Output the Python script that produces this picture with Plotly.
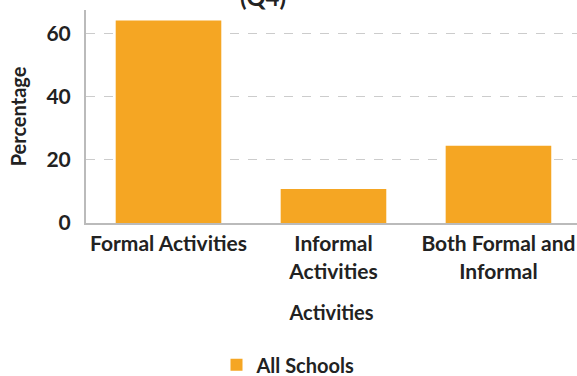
import plotly.graph_objects as go

# Share of schools by type of activity offered
categories = ["Formal Activities", "Informal<br>Activities", "Both Formal and<br>Informal"]
percentages = [64.2, 10.8, 24.5]
series_name = "All Schools"
y_ticks = [0, 20, 40, 60]

BAR_COLOR = "#F5A623"
TEXT_COLOR = "#222222"
FONT = "Lato"
SIZE = 21

fig = go.Figure(
    go.Bar(
        x=categories,
        y=percentages,
        name=series_name,
        marker=dict(color=BAR_COLOR, line=dict(width=0)),
        showlegend=True,
    )
)

fig.update_layout(
    width=577,
    height=376,
    margin=dict(l=86, r=0, t=10, b=153),
    paper_bgcolor="white",
    plot_bgcolor="white",
    bargap=0.36,
    font=dict(family=FONT, size=SIZE, color=TEXT_COLOR, weight=700),
    title=dict(
        text="(Q4)",
        font=dict(family=FONT, size=24, color=TEXT_COLOR, weight=700),
        xref="container",
        x=0.456,
        xanchor="center",
        yref="container",
        y=0.985,
        yanchor="bottom",
    ),
    legend=dict(
        orientation="h",
        xref="container",
        x=0.5,
        xanchor="center",
        yref="container",
        y=0.03,
        yanchor="middle",
        font=dict(family=FONT, size=SIZE - 1, color=TEXT_COLOR, weight=700),
    ),
)

fig.update_xaxes(
    type="category",
    range=[-0.5, 2.476],
    showline=True,
    linecolor="#bbbbbb",
    linewidth=2,
    showgrid=False,
    ticks="",
    ticklabelstandoff=1,
    title=dict(text="Activities", standoff=24, font=dict(size=SIZE - 1, weight=700)),
    automargin=False,
)

fig.update_yaxes(
    range=[0, 67.5],
    tickvals=y_ticks,
    showline=True,
    linecolor="#bbbbbb",
    linewidth=2,
    showgrid=True,
    gridcolor="#cccccc",
    griddash="dash",
    gridwidth=1,
    zeroline=False,
    ticks="",
    ticklabelstandoff=9,
    title=dict(text="Percentage", standoff=14, font=dict(size=SIZE - 1, weight=700)),
    automargin=False,
)

fig.write_html("out.html")
